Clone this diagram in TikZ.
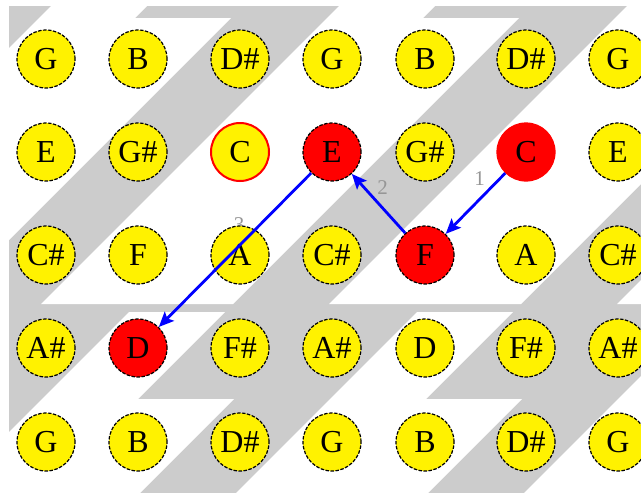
\documentclass[tikz,border=0pt]{standalone}
\usepackage{fontspec}
\setmainfont{Liberation Serif}
\usetikzlibrary{arrows.meta,backgrounds}
\definecolor{stripe}{HTML}{CCCCCC}
\definecolor{lblgray}{HTML}{969696}

\begin{document}
\begin{tikzpicture}[x=1pt, y=-1pt,
  note/.style={circle, minimum size=58pt, inner sep=0pt, fill=yellow, draw=black,
               line width=1.2pt, dash pattern=on 3.5pt off 1.5pt,
               font=\fontsize{32}{32}\selectfont},
  hit/.style={fill=red},
  root/.style={fill=red, draw=red, solid},
  ring/.style={draw=red, solid, line width=2pt},
  arr/.style={-{Stealth[length=15pt, width=13pt, inset=3pt]}, line width=2.8pt, blue},
  lab/.style={text=lblgray, font=\fontsize{21}{21}\selectfont},
  st12/.style={ring}, st13/.style={hit}, st15/.style={root},
  st24/.style={hit}, st31/.style={hit}]
  \useasboundingbox (0,0) rectangle (641,493);
  % note grid, rows and columns at pixel positions
  \foreach \r/\y/\na/\nb/\nc in {0/59/G/B/D\#, 1/152/E/G\#/C, 2/255/C\#/F/A,
                                 3/348/A\#/D/F\#, 4/442/G/B/D\#}
    \foreach \c/\x in {0/46, 1/138, 2/240, 3/332, 4/425, 5/526, 6/618} {
      \pgfmathtruncatemacro\m{mod(\c,3)}
      \node[note, st\r\c/.try] (n\r\c) at (\x,\y) {\ifcase\m\na\or\nb\else\nc\fi};
    }
  % path through the grid
  \draw[arr] (n15) -- (n24);
  \draw[arr] (n24) -- (n13);
  \draw[arr] (n13) -- (n31);
  \begin{scope}[on background layer]
    \begin{scope}
      \clip (9,6) rectangle (641,493);
      \fill[stripe] (9,6) rectangle (641,493);
      % white zig-zag bands, period of three columns
      \foreach \o in {-288,0,288,576} {
        \fill[white] (412+\o,-67) -- (508+\o,-67) -- (423+\o,18) -- (519+\o,18)
          -- (233+\o,304) -- (41+\o,304) -- cycle;
        \fill[white] (129+\o,312) -- (225+\o,312) -- (138+\o,399) -- (234+\o,399)
          -- (113+\o,520) -- (-79+\o,520) -- cycle;
      }
    \end{scope}
    \path (n15) -- node[lab, xshift=4pt, yshift=25pt] (l1) {1} (n24);
    \path (n24) -- node[lab, xshift=4pt, yshift=16pt] (l2) {2} (n13);
    \path (n13) -- node[lab, xshift=4pt, yshift=25pt] (l3) {3} (n31);
  \end{scope}
\end{tikzpicture}
\end{document}
